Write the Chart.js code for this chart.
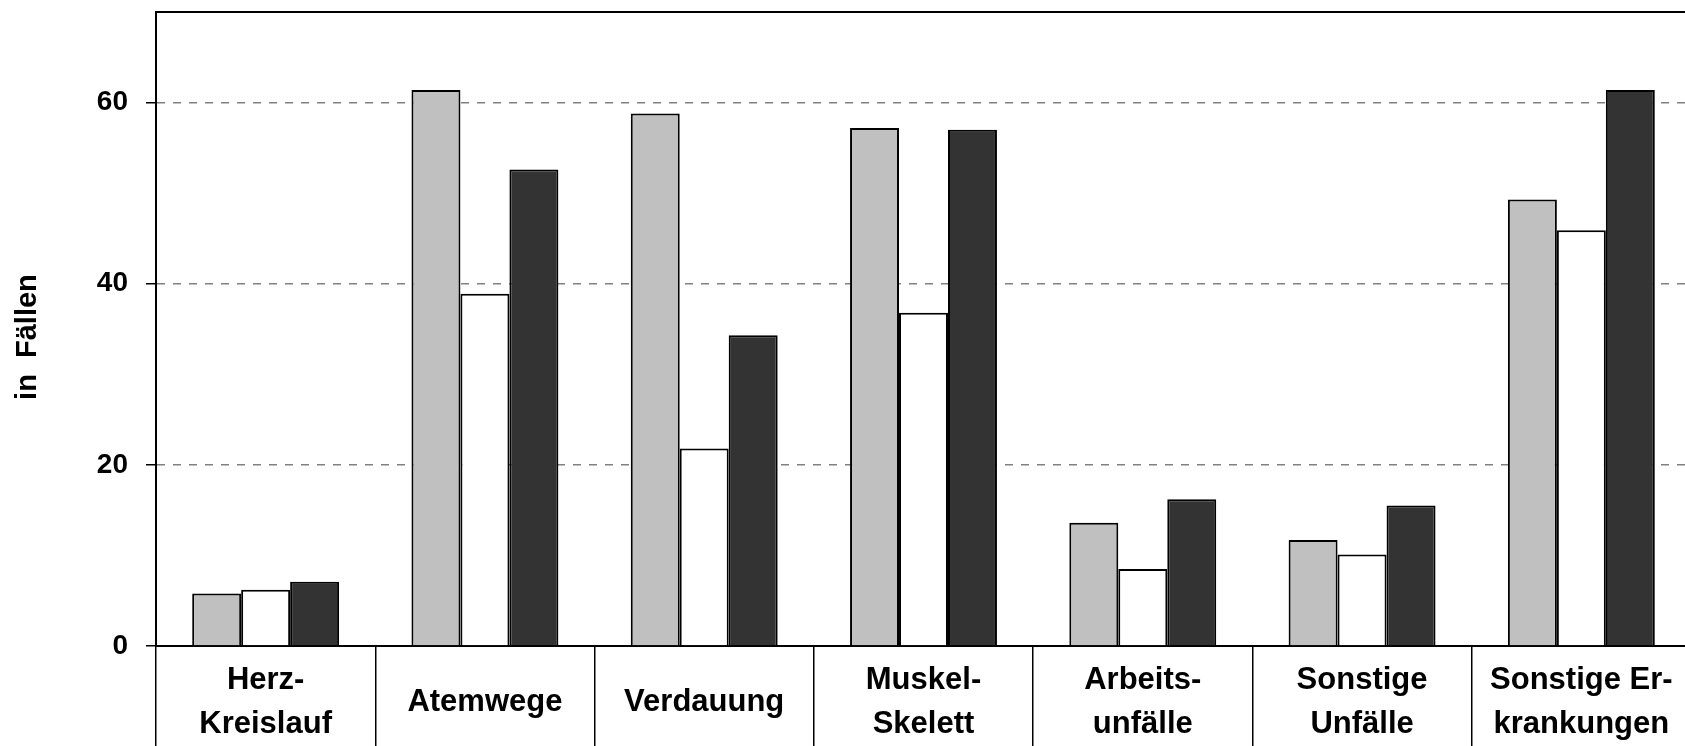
<!DOCTYPE html>
<html>
<head>
<meta charset="utf-8">
<script src="https://cdn.jsdelivr.net/npm/chart.js@4"></script>
<style>
  html, body { margin: 0; padding: 0; background: #fff; overflow: hidden; }
  #wrap { width: 1700px; height: 746px; }
</style>
</head>
<body>
<div id="wrap"><canvas id="barChart"></canvas></div>
<script>
var categories = [
    ['Herz-', 'Kreislauf'],
    'Atemwege',
    'Verdauung',
    ['Muskel-', 'Skelett'],
    ['Arbeits-', 'unfälle'],
    ['Sonstige', 'Unfälle'],
    ['Sonstige Er-', 'krankungen']
];
var seriesGray  = [5.8, 61.4, 58.8, 57.2, 13.6, 11.7, 49.3];
var seriesWhite = [6.2, 38.9, 21.8, 36.8, 8.5, 10.1, 45.9];
var seriesDark  = [7.1, 52.6, 34.3, 57.0, 16.2, 15.5, 61.4];
var yTicks = [0, 20, 40, 60];

// top and right edge of the plot box
var frame = {
    id: 'frame',
    afterDraw: function(chart) {
        var a = chart.chartArea, c = chart.ctx;
        c.save();
        c.strokeStyle = '#000';
        c.lineWidth = 2;
        c.setLineDash([]);
        c.beginPath();
        c.moveTo(a.left, a.top);
        c.lineTo(a.right, a.top);
        c.lineTo(a.right, a.bottom);
        c.stroke();
        c.restore();
    }
};

var ctx_bar = document.getElementById('barChart');
var barChart = new Chart(ctx_bar, {
    type: 'bar',
    data: {
        labels: categories,
        datasets: [
            { label: 'A', data: seriesGray,  backgroundColor: '#C0C0C0' },
            { label: 'B', data: seriesWhite, backgroundColor: '#FFFFFF' },
            { label: 'C', data: seriesDark,  backgroundColor: '#333333' }
        ]
    },
    options: {
        responsive: true,
        maintainAspectRatio: false,
        animation: false,
        layout: { padding: { top: 12, right: 9, bottom: 0, left: 0 } },
        datasets: {
            bar: {
                borderColor: '#000',
                borderWidth: 2,
                categoryPercentage: 0.67,
                barPercentage: 1.0
            }
        },
        plugins: {
            legend: { display: false },
            tooltip: { enabled: false }
        },
        scales: {
            x: {
                offset: true,
                grid: {
                    offset: true,
                    drawOnChartArea: false,
                    color: '#000',
                    lineWidth: 1.5,
                    tickLength: 100
                },
                border: { color: '#000', width: 2 },
                ticks: {
                    color: '#000',
                    font: { family: 'Liberation Sans, Arial, sans-serif', size: 31, weight: 'bold', lineHeight: 1.45 },
                    padding: -66,
                    crossAlign: 'center',
                    maxRotation: 0,
                    autoSkip: false
                },
                afterFit: function(s) { s.height = 100; s.paddingLeft = 0; s.paddingRight = 0; }
            },
            y: {
                min: 0,
                max: 70,
                afterBuildTicks: function(s) {
                    s.ticks = yTicks.map(function(v) { return { value: v }; });
                },
                grid: {
                    color: function(c) { return c.tick && c.tick.value === 0 ? 'transparent' : '#808080'; },
                    lineWidth: 1.5,
                    tickLength: 10,
                    tickColor: '#000',
                    tickWidth: 1.5,
                    tickBorderDash: []
                },
                border: { color: '#000', width: 2, dash: [8, 8] },
                ticks: {
                    color: '#000',
                    font: { family: 'Liberation Sans, Arial, sans-serif', size: 28, weight: 'bold' },
                    padding: 18
                },
                title: {
                    display: true,
                    text: 'in  Fällen  ',
                    color: '#000',
                    font: { family: 'Liberation Sans, Arial, sans-serif', size: 29, weight: 'bold' },
                    padding: { top: 11, bottom: 0 }
                },
                afterFit: function(s) { s.width = 156; s.paddingTop = 0; s.paddingBottom = 0; }
            }
        }
    },
    plugins: [frame]
});
</script>
</body>
</html>
